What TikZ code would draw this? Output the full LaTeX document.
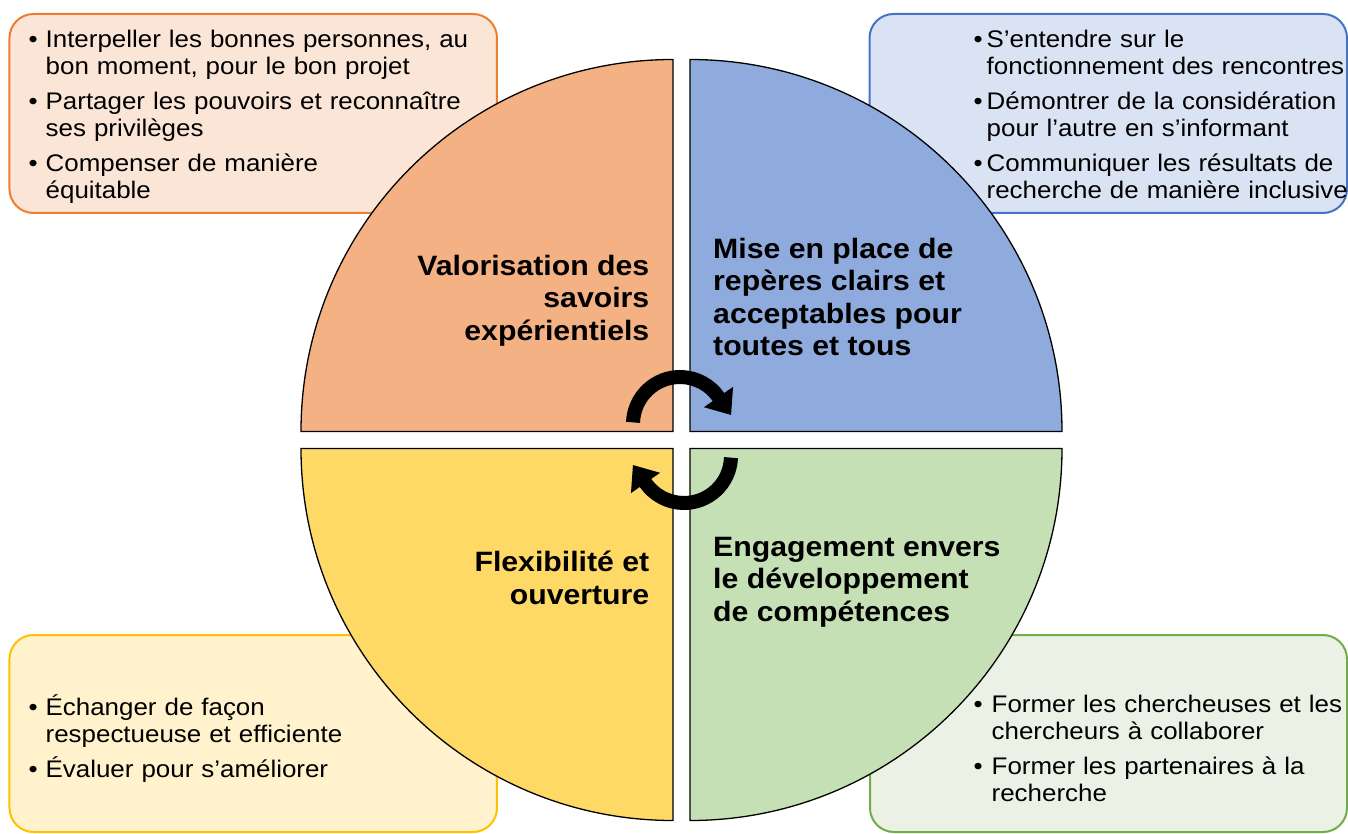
\documentclass[tikz,border=0pt]{standalone}
\usepackage{fontspec}
\setmainfont{Liberation Sans}[FakeStretch=1.08]
\usetikzlibrary{arrows.meta}

% fills of the four quarters and of the boxes around them
\definecolor{orangeQ}{HTML}{F4B183}
\definecolor{bleuQ}{HTML}{8FAADC}
\definecolor{vertQ}{HTML}{C5E0B4}
\definecolor{jauneQ}{HTML}{FFD966}
\definecolor{orangeC}{HTML}{FBE5D6}
\definecolor{bleuC}{HTML}{DAE3F3}
\definecolor{vertC}{HTML}{EBF2E5}
\definecolor{jauneC}{HTML}{FFF2CC}
\definecolor{orangeT}{HTML}{ED7D31}
\definecolor{bleuT}{HTML}{4472C4}
\definecolor{vertT}{HTML}{70AD47}
\definecolor{jauneT}{HTML}{FFC000}

% one bullet item, hanging indent given by \retrait (break lines with \newline)
\newlength{\retrait}
\newcommand{\puce}[1]{\setlength{\parskip}{8pt}\hangindent=\retrait\hangafter=1%
  \makebox[\retrait][l]{\textbullet}#1\par}

\tikzset{
	x=1pt, y=1pt, % one unit is one point
	quart/.style={draw=black, line width=1.3pt}, % the four quarters of the circle
	cadre/.style={rounded corners=24pt, line width=2pt}, % boxes in the corners
	titre/.style={font=\fontsize{28}{32.5}\selectfont\bfseries, inner sep=0pt}, % anchored on the last line
	liste/.style={font=\fontsize{24}{27}\selectfont, inner sep=0pt, text width=520pt, align=left, anchor=base west},
	rond/.style={line width=14pt, -{Triangle[width=34pt,length=22pt]}}, % the turning arrows
}

\begin{document}
\begin{tikzpicture}
	\useasboundingbox (-681.5,-393) rectangle (666.5,440);
	\clip (-681.5,-393) rectangle (666.5,440);

	% boxes
	\filldraw[cadre, draw=orangeT, fill=orangeC] (-672,227) rectangle (-184.5,426);
	\filldraw[cadre, draw=bleuT, fill=bleuC] (188,227) rectangle (665.5,426);
	\filldraw[cadre, draw=jauneT, fill=jauneC] (-672,-392) rectangle (-184.5,-195);
	\filldraw[cadre, draw=vertT, fill=vertC] (188.5,-392) rectangle (665.5,-195);

	\node[liste] (valo-liste) at (-653,392) {\setlength{\retrait}{17pt}%
		\puce{Interpeller les bonnes personnes, au\newline bon moment, pour le bon projet}%
		\puce{Partager les pouvoirs et reconnaître\newline ses privilèges}%
		\puce{Compenser de manière\newline équitable}};
	\node[liste] (reperes-liste) at (292,392) {\setlength{\retrait}{13pt}%
		\puce{S’entendre sur le\newline fonctionnement des rencontres}%
		\puce{Démontrer de la considération\newline pour l’autre en s’informant}%
		\puce{Communiquer les résultats de\newline recherche de manière inclusive}};
	\node[liste] (flex-liste) at (-653,-275) {\setlength{\retrait}{17pt}%
		\puce{Échanger de façon\newline respectueuse et efficiente}%
		\puce{Évaluer pour s’améliorer}};
	\node[liste] (engag-liste) at (292,-272) {\setlength{\retrait}{18pt}%
		\puce{Former les chercheuses et les\newline chercheurs à collaborer}%
		\puce{Former les partenaires à la\newline recherche}};

	% quarters, turned round the centre
	\foreach \a/\c in {90/orangeQ, 0/bleuQ, -90/vertQ, 180/jauneQ}
		\filldraw[quart, fill=\c, rotate=\a] (8.5,8.5) -- (380.5,8.5) arc[start angle=0, end angle=90, radius=372] -- cycle;

	\node[titre, anchor=base east, align=right] (valo) at (-32,100) {Valorisation des\\savoirs\\expérientiels};
	\node[titre, anchor=base west, align=left] (reperes) at (31.5,84.5) {Mise en place de\\repères clairs et\\acceptables pour\\toutes et tous};
	\node[titre, anchor=base west, align=left] (engag) at (31.5,-181) {Engagement envers\\le développement\\de compétences};
	\node[titre, anchor=base east, align=right] (flex) at (-32,-164) {Flexibilité et\\ouverture};

	% turning arrows in the middle
	\draw[rond] (-1.5,16) ++(178:47) arc[start angle=178, end angle=35, radius=47] -- ++(-55:22);
	\draw[rond] (2.5,-16) ++(-2:47) arc[start angle=-2, end angle=-145, radius=47] -- ++(125:22);
\end{tikzpicture}
\end{document}
